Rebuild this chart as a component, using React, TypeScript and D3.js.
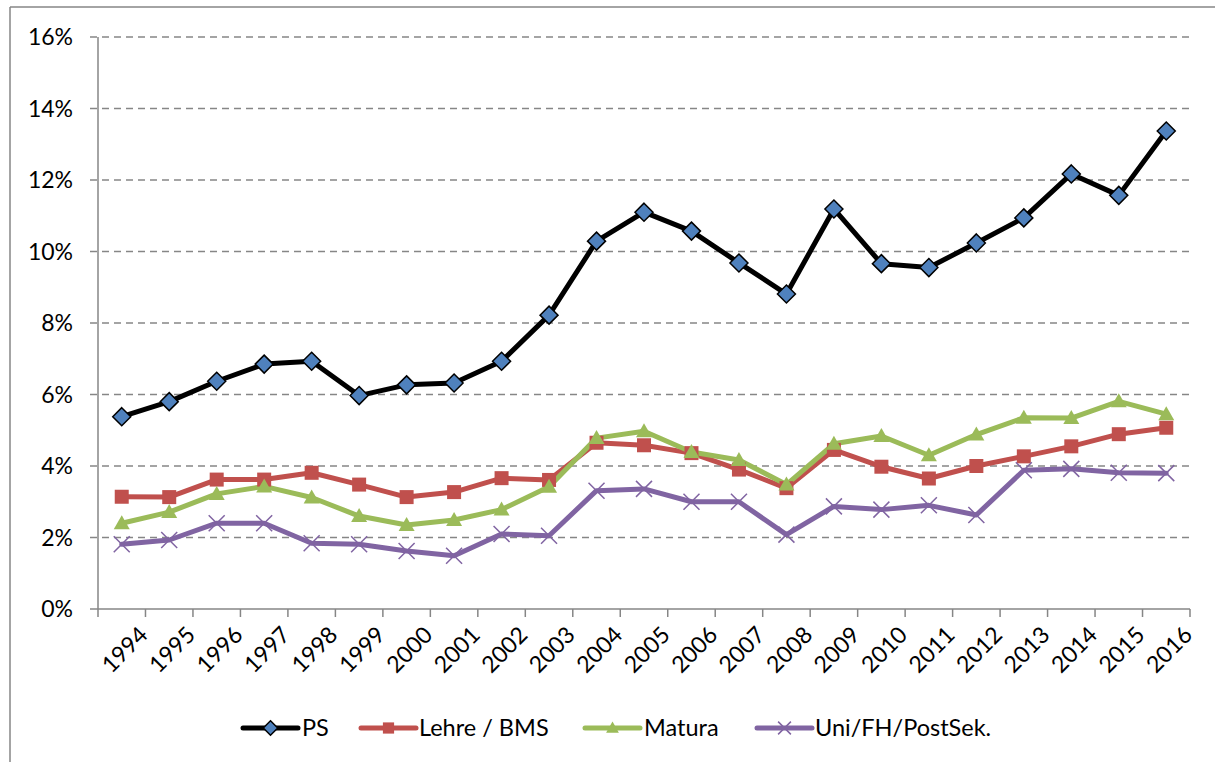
import React from "react";
import * as d3 from "d3";

const years = ["1994","1995","1996","1997","1998","1999","2000","2001","2002","2003","2004","2005","2006","2007","2008","2009","2010","2011","2012","2013","2014","2015","2016"];
const psValues = [5.38, 5.8, 6.37, 6.85, 6.93, 5.97, 6.27, 6.32, 6.93, 8.22, 10.29, 11.1, 10.57, 9.68, 8.81, 11.19, 9.66, 9.55, 10.24, 10.94, 12.17, 11.57, 13.37];
const lehreValues = [3.14, 3.13, 3.62, 3.62, 3.81, 3.48, 3.13, 3.27, 3.66, 3.61, 4.65, 4.58, 4.36, 3.9, 3.38, 4.45, 3.98, 3.65, 4.0, 4.27, 4.55, 4.89, 5.07];
const maturaValues = [2.4, 2.71, 3.22, 3.43, 3.12, 2.6, 2.35, 2.49, 2.78, 3.42, 4.78, 4.97, 4.39, 4.17, 3.48, 4.62, 4.84, 4.3, 4.88, 5.35, 5.34, 5.81, 5.45];
const uniValues = [1.81, 1.93, 2.4, 2.4, 1.84, 1.81, 1.62, 1.49, 2.1, 2.05, 3.31, 3.36, 3.0, 3.0, 2.08, 2.87, 2.78, 2.9, 2.63, 3.88, 3.92, 3.81, 3.8];
const yTicks = [0, 2, 4, 6, 8, 10, 12, 14, 16];
const seriesNames = ["PS", "Lehre / BMS", "Matura", "Uni/FH/PostSek."];

const W = 1215, H = 762;
const left = 98, right = 1190, top = 37, bottom = 609;
const FONT = "Lato, 'Open Sans', sans-serif";
const GRAY = "#868686";

type Series = { name: string; values: number[]; line: string; marker: string; fill: string };

const series: Series[] = [
  { name: seriesNames[0], values: psValues, line: "#000000", marker: "diamond", fill: "#4F81BD" },
  { name: seriesNames[1], values: lehreValues, line: "#C0504D", marker: "square", fill: "#C0504D" },
  { name: seriesNames[2], values: maturaValues, line: "#9BBB59", marker: "triangle", fill: "#9BBB59" },
  { name: seriesNames[3], values: uniValues, line: "#8064A2", marker: "x", fill: "#8064A2" },
];

function Marker({ kind, x, y, fill, scale = 1 }: { kind: string; x: number; y: number; fill: string; scale?: number }) {
  if (kind === "diamond") {
    const r = 9 * scale;
    return <path d={`M${x},${y - r}L${x + r},${y}L${x},${y + r}L${x - r},${y}Z`} fill={fill} stroke="#000" strokeWidth={1.5} />;
  }
  if (kind === "square") {
    const r = 7 * scale;
    return <rect x={x - r} y={y - r} width={2 * r} height={2 * r} fill={fill} />;
  }
  if (kind === "triangle") {
    const r = 8 * scale;
    return <path d={`M${x},${y - r}L${x + r},${y + r * 0.75}L${x - r},${y + r * 0.75}Z`} fill={fill} />;
  }
  const r = 8 * scale;
  return (
    <path d={`M${x - r},${y - r}L${x + r},${y + r}M${x - r},${y + r}L${x + r},${y - r}`} stroke={fill} strokeWidth={1.5} fill="none" />
  );
}

export default function App() {
  const x = d3.scaleBand<string>().domain(years).range([left, right]);
  const y = d3.scaleLinear().domain([0, 16]).range([bottom, top]);
  const cx = (yr: string) => (x(yr) ?? 0) + x.bandwidth() / 2;
  const line = d3
    .line<number>()
    .x((_, i) => cx(years[i]))
    .y((v) => y(v));

  const xTickPositions = years.map((yr) => x(yr) ?? 0).concat([right]);

  const legendItems = [
    { lx: 243, tx: 302 },
    { lx: 361, tx: 419 },
    { lx: 585, tx: 644 },
    { lx: 757, tx: 815 },
  ];
  const legendY = 728;

  return (
    <svg width={W} height={H} style={{ position: "absolute", left: 0, top: 0, background: "#fff" }} fontFamily={FONT}>
      <rect x={0} y={0} width={W} height={H} fill="#fff" />
      {/* frame */}
      <line x1={10} y1={7} x2={W} y2={7} stroke={GRAY} strokeWidth={1.5} />
      <line x1={10} y1={7} x2={10} y2={H} stroke={GRAY} strokeWidth={1.5} />

      {/* gridlines */}
      {yTicks.filter((t) => t > 0).map((t) => (
        <line key={"g" + t} x1={90} x2={right} y1={y(t)} y2={y(t)} stroke={GRAY} strokeWidth={1.5} strokeDasharray="7,5" />
      ))}
      {/* y axis */}
      <line x1={left} x2={left} y1={top} y2={bottom} stroke={GRAY} strokeWidth={1.5} />
      <line x1={90} x2={left} y1={bottom} y2={bottom} stroke={GRAY} strokeWidth={1.5} />
      {yTicks.map((t) => (
        <text key={"yl" + t} x={73} y={y(t)} dy="0.36em" textAnchor="end" fontSize={23} fill="#000">
          {t}%
        </text>
      ))}
      {/* x axis */}
      <line x1={left} x2={right} y1={bottom} y2={bottom} stroke={GRAY} strokeWidth={1.5} />
      {xTickPositions.map((p, i) => (
        <line key={"xt" + i} x1={p} x2={p} y1={bottom} y2={bottom + 8} stroke={GRAY} strokeWidth={1.5} />
      ))}
      {years.map((yr) => (
        <text
          key={"xl" + yr}
          transform={`translate(${cx(yr) + 16},${bottom + 16}) rotate(-45)`}
          textAnchor="end"
          dy="0.7em"
          fontSize={23}
          fill="#000"
        >
          {yr}
        </text>
      ))}

      {/* series lines */}
      {series.map((s) => (
        <path key={"l" + s.name} d={line(s.values) ?? ""} fill="none" stroke={s.line} strokeWidth={5} strokeLinejoin="round" strokeLinecap="round" />
      ))}
      {series.map((s) => (
        <g key={"m" + s.name}>
          {s.values.map((v, i) => (
            <Marker key={i} kind={s.marker} x={cx(years[i])} y={y(v)} fill={s.fill} />
          ))}
        </g>
      ))}

      {/* legend */}
      {series.map((s, i) => {
        const it = legendItems[i];
        return (
          <g key={"lg" + s.name}>
            <line x1={it.lx} x2={it.lx + 55} y1={legendY} y2={legendY} stroke={s.line} strokeWidth={5} strokeLinecap="round" />
            <Marker kind={s.marker} x={it.lx + 27.5} y={legendY} fill={s.fill} scale={0.8} />
            <text x={it.tx} y={legendY} dy="0.36em" fontSize={23.5} fill="#000">
              {s.name}
            </text>
          </g>
        );
      })}
    </svg>
  );
}
